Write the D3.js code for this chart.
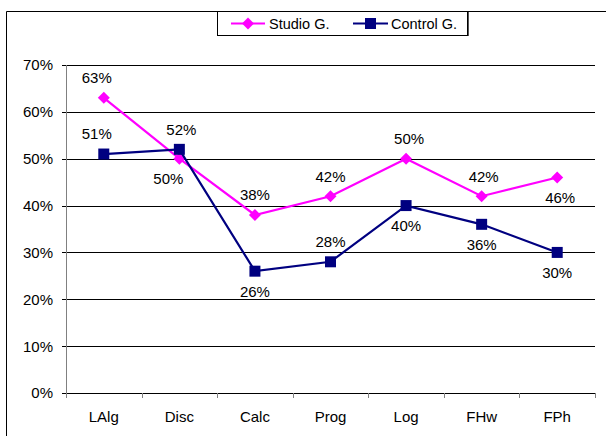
<!DOCTYPE html>
<html>
<head>
<meta charset="utf-8">
<script src="https://cdn.jsdelivr.net/npm/d3@7"></script>
<style>
  html, body { margin: 0; padding: 0; background: #fff; }
  svg { display: block; font-family: "Liberation Sans", Arial, sans-serif; }
</style>
</head>
<body>
<svg id="chart" width="606" height="436"></svg>
<script>
// Course categories and the share of each group per course
const categories = ["LAlg", "Disc", "Calc", "Prog", "Log", "FHw", "FPh"];
const studioValues = [63, 50, 38, 42, 50, 42, 46];
const controlValues = [51, 52, 26, 28, 40, 36, 30];
const yTicks = [0, 10, 20, 30, 40, 50, 60, 70];
const seriesNames = ["Studio G.", "Control G."];

// Where each value label sits relative to its marker
const studioLabelSide = ["above", "below", "above", "above", "above", "above", "below"];
const controlLabelSide = ["above", "above", "below", "above", "below", "below", "below"];
const studioLabelNudge = [-7, -11, 0, 0, 3, 2, 3];
const controlLabelNudge = [-7, 2, 0, 0, 0, 0, 0];

const svg = d3.select("#chart");
const plot = { left: 66, right: 595, top: 65, bottom: 393 };

const x = d3.scaleBand().domain(categories).range([plot.left, plot.right]).padding(0);
const y = d3.scaleLinear().domain([0, 70]).range([plot.bottom, plot.top]);

// Chart frame (right and bottom edges fall outside the page)
svg.append("path")
  .attr("d", "M6.5,440 V11.5 H610")
  .attr("fill", "none").attr("stroke", "#000").attr("stroke-width", 1);

// Horizontal gridlines with small ticks to the left of the axis
const grid = svg.append("g");
grid.selectAll("line").data(yTicks).join("line")
  .attr("x1", plot.left - 4).attr("x2", plot.right)
  .attr("y1", d => Math.round(y(d)) + 0.5).attr("y2", d => Math.round(y(d)) + 0.5)
  .attr("stroke", "#000").attr("stroke-width", 1);

// Y axis labels
svg.append("g").selectAll("text").data(yTicks).join("text")
  .attr("x", 53).attr("y", d => y(d)).attr("dy", "0.36em")
  .attr("text-anchor", "end").attr("font-size", 15).attr("fill", "#000")
  .text(d => d + "%");

// Vertical axis line
svg.append("line")
  .attr("x1", plot.left + 0.5).attr("x2", plot.left + 0.5)
  .attr("y1", plot.top).attr("y2", plot.bottom + 4)
  .attr("stroke", "#808080").attr("stroke-width", 1);

// Category axis along the bottom
const xAxis = svg.append("g");
const boundaries = categories.map(c => x(c)).concat([plot.right]);
xAxis.append("line")
  .attr("x1", plot.left).attr("x2", plot.right)
  .attr("y1", Math.round(y(0)) + 0.5).attr("y2", Math.round(y(0)) + 0.5)
  .attr("stroke", "#000");
xAxis.selectAll("line.tick").data(boundaries).join("line")
  .attr("class", "tick")
  .attr("x1", d => Math.round(d) + 0.5).attr("x2", d => Math.round(d) + 0.5)
  .attr("y1", Math.round(y(0))).attr("y2", Math.round(y(0)) + 5)
  .attr("stroke", "#808080");
xAxis.selectAll("text").data(categories).join("text")
  .attr("x", d => x(d) + x.bandwidth() / 2).attr("y", 422)
  .attr("text-anchor", "middle").attr("font-size", 15).attr("fill", "#000")
  .text(d => d);

const cx = c => x(c) + x.bandwidth() / 2;
const line = d3.line().x(d => cx(d.cat)).y(d => y(d.v));

const studio = categories.map((c, i) => ({ cat: c, v: studioValues[i], side: studioLabelSide[i], nudge: studioLabelNudge[i] }));
const control = categories.map((c, i) => ({ cat: c, v: controlValues[i], side: controlLabelSide[i], nudge: controlLabelNudge[i] }));

const diamond = d3.symbol().type(d3.symbolSquare).size(72);
const square = d3.symbol().type(d3.symbolSquare).size(121);

function drawSeries(data, color, markerPath, rotate) {
  const g = svg.append("g");
  g.append("path").datum(data)
    .attr("d", line).attr("fill", "none")
    .attr("stroke", color).attr("stroke-width", 2.2);
  g.selectAll("path.m").data(data).join("path")
    .attr("class", "m")
    .attr("d", markerPath)
    .attr("transform", d => `translate(${cx(d.cat)},${y(d.v)}) rotate(${rotate})`)
    .attr("fill", color);
  return g;
}

drawSeries(studio, "#ff00ff", diamond, 45);
drawSeries(control, "#000080", square, 0);

// Value labels
function drawLabels(data) {
  svg.append("g").selectAll("text").data(data).join("text")
    .attr("x", d => cx(d.cat) + d.nudge)
    .attr("y", d => y(d.v) + (d.side === "above" ? -20 : 20))
    .attr("dy", "0.36em")
    .attr("text-anchor", "middle").attr("font-size", 15).attr("fill", "#000")
    .text(d => d.v + "%");
}
drawLabels(studio);
drawLabels(control);

// Legend
const legend = svg.append("g");
legend.append("rect")
  .attr("x", 217.5).attr("y", 11.5).attr("width", 250).attr("height", 24)
  .attr("fill", "#fff").attr("stroke", "#000");
legend.append("line")
  .attr("x1", 468.5).attr("x2", 468.5).attr("y1", 12).attr("y2", 36)
  .attr("stroke", "#555");

const legendItems = [
  { name: seriesNames[0], color: "#ff00ff", marker: diamond, rotate: 45, x0: 231, x1: 265, tx: 269 },
  { name: seriesNames[1], color: "#000080", marker: square, rotate: 0, x0: 353, x1: 388, tx: 391 }
];
legendItems.forEach(it => {
  legend.append("line")
    .attr("x1", it.x0).attr("x2", it.x1).attr("y1", 23.5).attr("y2", 23.5)
    .attr("stroke", it.color).attr("stroke-width", 2.2);
  legend.append("path")
    .attr("d", it.marker)
    .attr("transform", `translate(${(it.x0 + it.x1) / 2},23.5) rotate(${it.rotate})`)
    .attr("fill", it.color);
  legend.append("text")
    .attr("x", it.tx).attr("y", 23.5).attr("dy", "0.36em")
    .attr("font-size", 14.5).attr("fill", "#000")
    .text(it.name);
});
</script>
</body>
</html>
